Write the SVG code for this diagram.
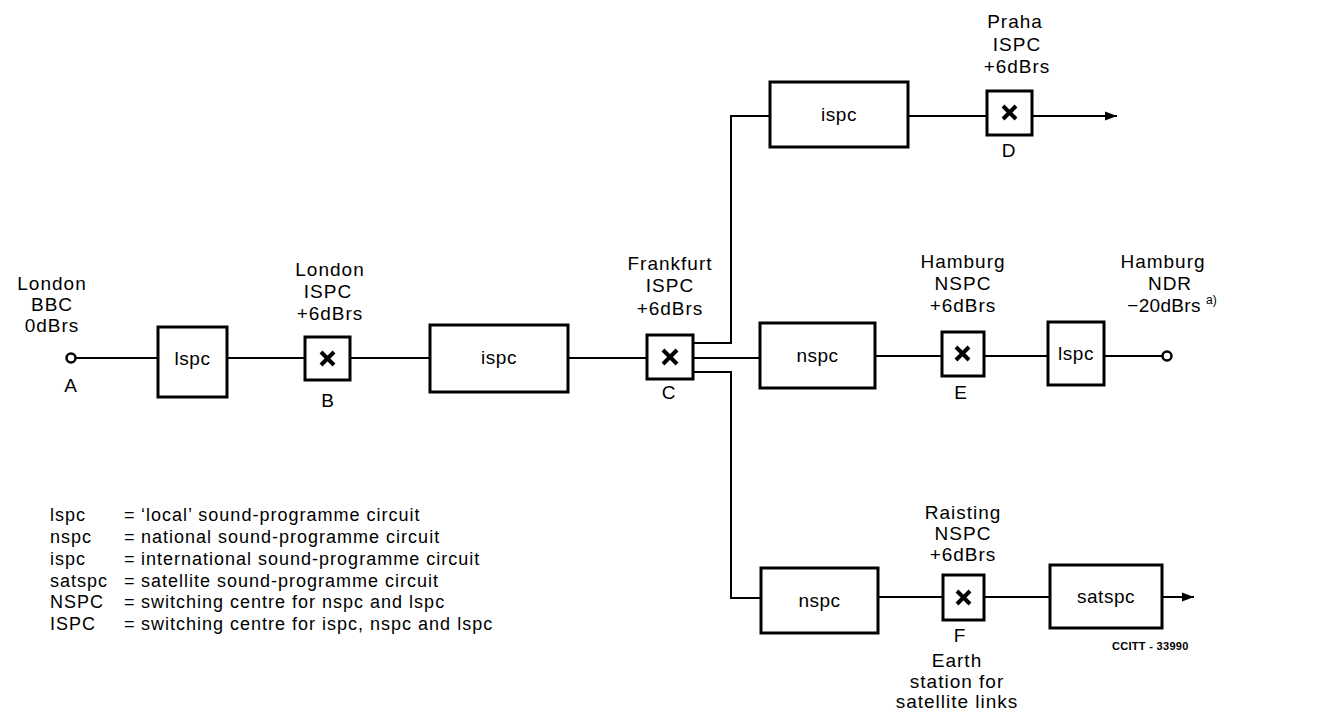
<svg xmlns="http://www.w3.org/2000/svg" width="1321" height="711" viewBox="0 0 1321 711">
<style>
.bg{fill:#fff}
.box{fill:#fff;stroke:#000;stroke-width:3}
.sw{fill:#fff;stroke:#000;stroke-width:3}
.x{stroke:#000;stroke-width:4;stroke-linecap:butt;fill:none}
.ln{stroke:#000;stroke-width:2;fill:none}
.term{fill:#fff;stroke:#000;stroke-width:2.5}
text{font-family:"Liberation Sans",Arial,sans-serif;fill:#000}
.lbl{font-size:19px;letter-spacing:1px;text-anchor:middle}
.bt{font-size:19px;letter-spacing:0.5px;text-anchor:middle}
.leg{font-size:18px;letter-spacing:1px}
.sup{font-size:12px}
.id{font-size:11px;font-weight:bold;letter-spacing:0.3px}
</style>
<defs>
<marker id="arr" viewBox="0 0 12 10" refX="12" refY="5" markerWidth="12" markerHeight="10" markerUnits="userSpaceOnUse" orient="auto">
<path d="M0,0.5 L12,5 L0,9.5 z" fill="#000"/>
</marker>
</defs>
<rect class="bg" x="0" y="0" width="1321" height="711"/>

<g id="connectors">
<path class="ln" d="M75.5,358 H158"/>
<path class="ln" d="M227,358 H305"/>
<path class="ln" d="M350,358 H430"/>
<path class="ln" d="M568,358 H647"/>
<path class="ln" d="M693,343 H731 V116 H770"/>
<path class="ln" d="M693,358 H760"/>
<path class="ln" d="M693,372 H731 V598 H761"/>
<path class="ln" d="M908,116 H987"/>
<path class="ln" d="M1032,116 H1117" marker-end="url(#arr)"/>
<path class="ln" d="M875,356 H942"/>
<path class="ln" d="M984,356 H1048"/>
<path class="ln" d="M1104,356 H1162.5"/>
<path class="ln" d="M878,597 H943"/>
<path class="ln" d="M984,597 H1050"/>
<path class="ln" d="M1162,597 H1194" marker-end="url(#arr)"/>
</g>

<g id="nodeA">
<circle class="term" cx="71" cy="358" r="4.5"/>
<text class="lbl" x="71" y="392">A</text>
<text class="lbl" x="52" y="290">London</text>
<text class="lbl" x="52" y="311">BBC</text>
<text class="lbl" x="52" y="332">0dBrs</text>
</g>

<g id="lspc1">
<rect class="box" x="158" y="327" width="69" height="70"/>
<text class="bt" x="192.5" y="365">lspc</text>
</g>

<g id="nodeB">
<rect class="sw" x="305" y="337" width="45" height="43"/>
<path class="x" d="M321,352 L334,365 M334,352 L321,365"/>
<text class="lbl" x="328" y="407">B</text>
<text class="lbl" x="330" y="276">London</text>
<text class="lbl" x="328" y="298">ISPC</text>
<text class="lbl" x="330" y="320">+6dBrs</text>
</g>

<g id="ispc1">
<rect class="box" x="430" y="325" width="138" height="67"/>
<text class="bt" x="499" y="364">ispc</text>
</g>

<g id="nodeC">
<rect class="sw" x="647" y="335" width="46" height="44"/>
<path class="x" d="M663,350 L677,364 M677,350 L663,364"/>
<text class="lbl" x="669" y="399">C</text>
<text class="lbl" x="670" y="270">Frankfurt</text>
<text class="lbl" x="670" y="292">ISPC</text>
<text class="lbl" x="670" y="315">+6dBrs</text>
</g>

<g id="ispc2">
<rect class="box" x="770" y="82" width="138" height="65"/>
<text class="bt" x="839" y="121">ispc</text>
</g>

<g id="nodeD">
<rect class="sw" x="987" y="91" width="45" height="44"/>
<path class="x" d="M1003,106 L1016,119 M1016,106 L1003,119"/>
<text class="lbl" x="1009" y="157">D</text>
<text class="lbl" x="1015" y="28">Praha</text>
<text class="lbl" x="1017" y="51">ISPC</text>
<text class="lbl" x="1017" y="73">+6dBrs</text>
</g>

<g id="nspc1">
<rect class="box" x="760" y="323" width="115" height="65"/>
<text class="bt" x="817.5" y="362">nspc</text>
</g>

<g id="nodeE">
<rect class="sw" x="942" y="332" width="42" height="44"/>
<path class="x" d="M956,347 L969,360 M969,347 L956,360"/>
<text class="lbl" x="961" y="399">E</text>
<text class="lbl" x="963" y="268">Hamburg</text>
<text class="lbl" x="963" y="290">NSPC</text>
<text class="lbl" x="963" y="312">+6dBrs</text>
</g>

<g id="lspc2">
<rect class="box" x="1048" y="322" width="56" height="63"/>
<text class="bt" x="1076" y="360">lspc</text>
</g>

<g id="nodeNDR">
<circle class="term" cx="1167" cy="356" r="4.5"/>
<text class="lbl" x="1163" y="268">Hamburg</text>
<text class="lbl" x="1170" y="290">NDR</text>
<text class="lbl" x="1164" y="312" style="letter-spacing:0.3px">−20dBrs</text>
<text class="sup" x="1206" y="304">a)</text>
</g>

<g id="nspc2">
<rect class="box" x="761" y="568" width="117" height="65"/>
<text class="bt" x="819.5" y="607">nspc</text>
</g>

<g id="nodeF">
<rect class="sw" x="943" y="575" width="41" height="45"/>
<path class="x" d="M957,591 L970,604 M970,591 L957,604"/>
<text class="lbl" x="960" y="642">F</text>
<text class="lbl" x="963" y="519">Raisting</text>
<text class="lbl" x="963" y="540">NSPC</text>
<text class="lbl" x="963" y="561">+6dBrs</text>
<text class="lbl" x="957" y="667">Earth</text>
<text class="lbl" x="957" y="688">station for</text>
<text class="lbl" x="957" y="708">satellite links</text>
</g>

<g id="satspc">
<rect class="box" x="1050" y="565" width="112" height="63"/>
<text class="bt" x="1106" y="603">satspc</text>
</g>

<g id="legend">
<text class="leg" x="50" y="521">lspc</text>
<text class="leg" x="50" y="543">nspc</text>
<text class="leg" x="50" y="565">ispc</text>
<text class="leg" x="50" y="587">satspc</text>
<text class="leg" x="50" y="608">NSPC</text>
<text class="leg" x="50" y="630">ISPC</text>
<text class="leg" x="124" y="521">=</text>
<text class="leg" x="124" y="543">=</text>
<text class="leg" x="124" y="565">=</text>
<text class="leg" x="124" y="587">=</text>
<text class="leg" x="124" y="608">=</text>
<text class="leg" x="124" y="630">=</text>
<text class="leg" x="141" y="521">‘local’ sound-programme circuit</text>
<text class="leg" x="141" y="543">national sound-programme circuit</text>
<text class="leg" x="141" y="565">international sound-programme circuit</text>
<text class="leg" x="141" y="587">satellite sound-programme circuit</text>
<text class="leg" x="141" y="608">switching centre for nspc and lspc</text>
<text class="leg" x="141" y="630">switching centre for ispc, nspc and lspc</text>
</g>

<text class="id" x="1112" y="650">CCITT - 33990</text>
</svg>
